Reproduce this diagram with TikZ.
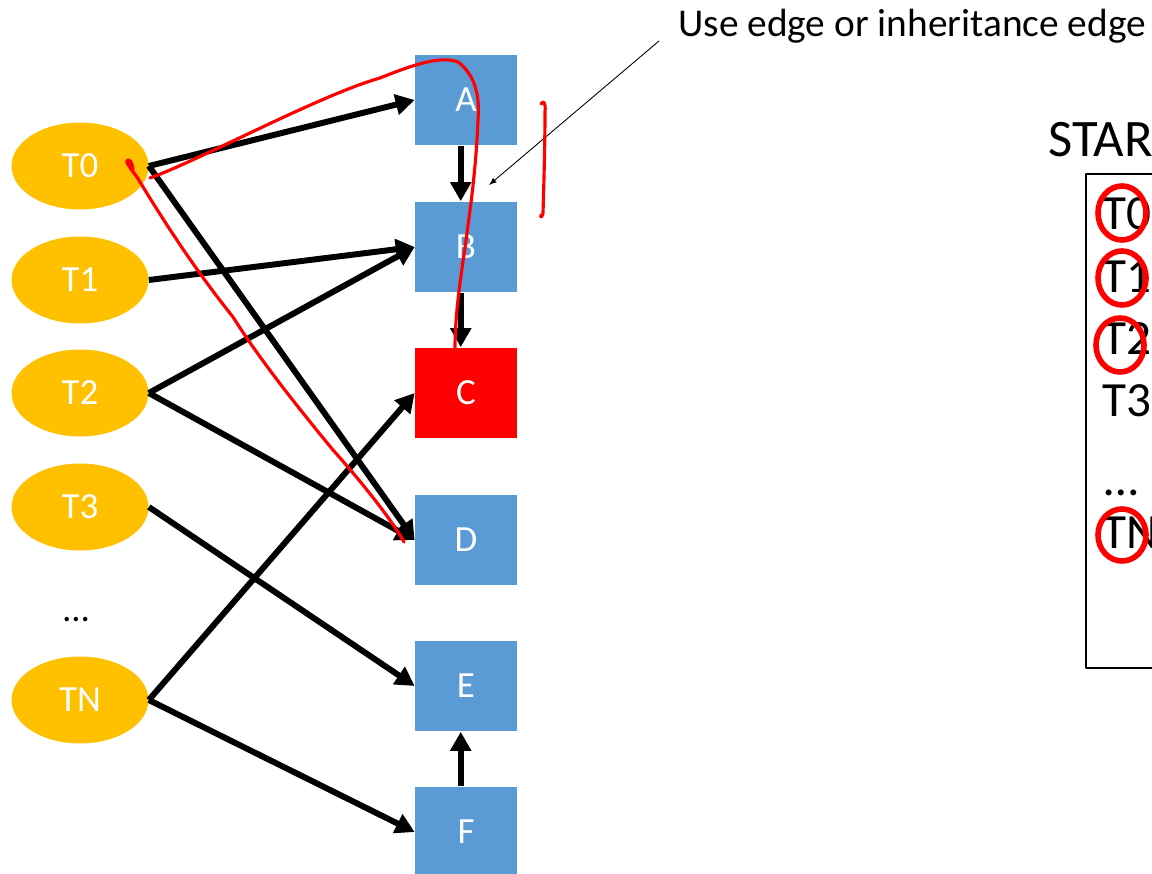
\documentclass[tikz,border=0pt]{standalone}
\usepackage{fontspec}
\setmainfont{Carlito}
\usetikzlibrary{shapes.geometric,arrows.meta}

\definecolor{taskorange}{HTML}{FFC000}
\definecolor{clsblue}{HTML}{5B9BD5}
\definecolor{clsred}{HTML}{FF0000}

\tikzset{
  task/.style={ellipse,fill=taskorange,inner sep=0pt,minimum width=2.74cm,minimum height=1.74cm,
    text=white,font=\fontsize{21}{25}\selectfont},
  cls/.style={rectangle,fill=clsblue,inner sep=0pt,minimum width=2.04cm,minimum height=1.82cm,
    text=white,font=\fontsize{21}{25}\selectfont},
  dep/.style={-{Triangle[length=10.8pt,width=11.5pt]},line width=3.4pt},
  ink/.style={red,line width=1.8pt,line cap=round,line join=round},
  ring/.style={red,line width=3.2pt},
  entry/.style={anchor=base west,inner sep=0pt,font=\fontsize{28}{32}\selectfont}
}

\begin{document}
\begin{tikzpicture}[x=0.02cm,y=-0.02cm,line join=round,>=latex]
\useasboundingbox (0,0) rectangle (1152,874);
\clip (0,0) rectangle (1152,874);

% tasks
\node[task] (T0) at (80,166) {T0};
\node[task] (T1) at (80,280) {T1};
\node[task] (T2) at (80,393) {T2};
\node[task] (T3) at (80,507) {T3};
\node[font=\fontsize{21}{25}\selectfont] (Tdots) at (76,620) {\dots};
\node[task] (TN) at (80,700) {TN};

% classes
\node[cls] (A) at (466,100) {A};
\node[cls] (B) at (466,247) {B};
\node[cls,fill=clsred] (C) at (466,393) {C};
\node[cls] (D) at (466,540) {D};
\node[cls] (E) at (466,686) {E};
\node[cls] (F) at (466,832) {F};

% uses
\draw[dep] (T0.east) -- (A.west);
\draw[dep] (T0.east) -- (D.west);
\draw[dep] (T1.east) -- (B.west);
\draw[dep] (T2.east) -- (B.west);
\draw[dep] (T2.east) -- (D.west);
\draw[dep] (T3.east) -- (E.west);
\draw[dep] (TN.east) -- (C.west);
\draw[dep] (TN.east) -- (F.west);

% inheritance
\draw[dep] ([xshift=-3]A.south) -- ([xshift=-3]B.north);
\draw[dep] ([xshift=-3]B.south) -- ([xshift=-3]C.north);
\draw[dep] ([xshift=-3]F.north) -- ([xshift=-3]E.south);

% note
\node[anchor=base west,inner sep=0pt,font=\fontsize{22.4}{26}\selectfont] (note) at (678,37) {Use edge or inheritance edge};
\coordinate (noteend) at (659,41);
\coordinate (notetip) at (489,185);
\draw[->,line width=0.5pt] (noteend) -- (notetip);

% start set
\node[anchor=base west,inner sep=0pt,font=\fontsize{30}{34}\selectfont] (start) at (1048,157) {STAR};
\draw[line width=0.8pt] (1086,174) rectangle (1200,668);
\node[entry] (s0) at (1102,230) {T0};
\node[entry] (s1) at (1102,293) {T1};
\node[entry] (s2) at (1102,355) {T2};
\node[entry] (s3) at (1102,417) {T3};
\node[entry] (sdots) at (1104,495) {\dots};
\node[entry] (sN) at (1102,548) {TN};
\draw[ring] (1122,213) ellipse [x radius=24,y radius=27];
\draw[ring] (1122,278) ellipse [x radius=24,y radius=27];
\draw[ring] (1120,345) ellipse [x radius=24,y radius=27];
\draw[ring] (1122,535) ellipse [x radius=24,y radius=26];

% pen strokes
\draw[ink] (404,542) .. controls (392,520) and (360,480) .. (333,450)
  .. controls (300,410) and (260,360) .. (233,317)
  .. controls (205,282) and (175,240) .. (137,177)
  .. controls (130,168) and (124,160) .. (128,160)
  .. controls (132,160) and (133,168) .. (133,172);
\draw[ink] (150,178) .. controls (200,160) and (320,95) .. (380,78)
  .. controls (410,66) and (440,55) .. (458,62)
  .. controls (475,75) and (480,95) .. (478,120)
  .. controls (476,170) and (470,210) .. (467,233)
  .. controls (462,270) and (455,310) .. (455,348);
\draw[ink] (541,104) .. controls (543,100) and (546,102) .. (545,112)
  .. controls (545,140) and (544,180) .. (543,213)
  .. controls (542,218) and (540,218) .. (541,215);
\end{tikzpicture}
\end{document}
